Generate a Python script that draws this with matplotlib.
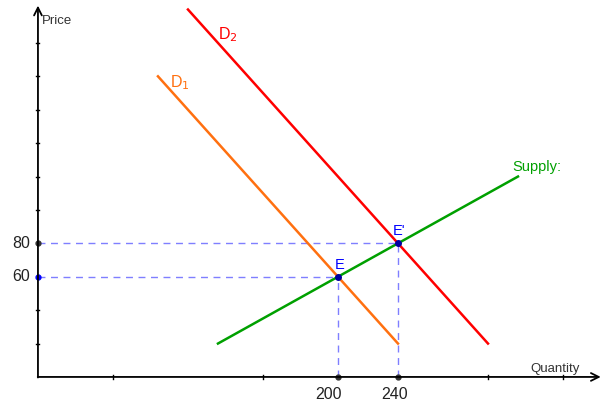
import numpy as np
import matplotlib.pyplot as plt

plt.rcParams['font.family'] = ['Liberation Sans', 'DejaVu Sans']

# curve end points (quantity, price)
supply_q = [120, 320]
supply_p = [20, 120]
d1_q = [80, 240]
d1_p = [180, 20]
d2_q = [100, 300]
d2_p = [220, 20]

# equilibria
eq_q = [200, 240]
eq_p = [60, 80]
eq_names = ["E", "E'"]

x_ticks = [50, 150, 300, 350]
y_ticks = [20, 40, 100, 120, 140, 160, 180, 200]

fig = plt.figure(figsize=(6.08, 4.03), dpi=100)
ax = fig.add_axes([0, 0, 1, 1])
ax.set_xlim(-25.3, 380)
ax.set_ylim(-15.6, 225.7)
ax.axis("off")

# axes with arrows
ax.annotate("", xy=(377, 0), xytext=(-2, 0),
            arrowprops=dict(arrowstyle="->", color="black", lw=1.3, mutation_scale=14))
ax.annotate("", xy=(0, 224), xytext=(0, -2),
            arrowprops=dict(arrowstyle="->", color="black", lw=1.3, mutation_scale=14))
ax.text(2.5, 213, "Price", fontsize=9.5, color="#333333", va="center")
ax.text(328.5, 5, "Quantity", fontsize=9.5, color="#333333", va="center")

for t in x_ticks:
    ax.plot([t, t], [-1, 1], color="black", lw=1)
for t in y_ticks:
    ax.plot([-1.5, 0.5], [t, t], color="black", lw=1)

# dashed guides
blue = "#7f7fff"
for q, p in zip(eq_q, eq_p):
    ax.plot([0, q], [p, p], color=blue, lw=1, dashes=(5, 4))
    ax.plot([q, q], [0, p], color=blue, lw=1, dashes=(5, 4))

# curves
ax.plot(d1_q, d1_p, color="#ff7010", lw=1.8)
ax.plot(d2_q, d2_p, color="#ff0000", lw=1.8)
ax.plot(supply_q, supply_p, color="#00a000", lw=1.8)

# points
ax.plot(eq_q, eq_p, "o", color="#0000a0", ms=4)
ax.plot(eq_q, [0, 0], "o", color="#333333", ms=3.5)
ax.plot([0], [eq_p[0]], "o", color="#0000ff", ms=3.5)
ax.plot([0], [eq_p[1]], "o", color="#333333", ms=3.5)

for q, p, n in zip(eq_q, eq_p, eq_names):
    ax.text(q + 1, p + 3, n, fontsize=10.5, color="#0000ff", ha="center", va="bottom")

ax.text(-5, eq_p[0], "60", fontsize=11.5, ha="right", va="center", color="#222222")
ax.text(-5, eq_p[1], "80", fontsize=11.5, ha="right", va="center", color="#222222")
ax.text(eq_q[0] - 6, -10.8, "200", fontsize=11.5, ha="center", va="center", color="#222222")
ax.text(eq_q[1] - 2, -10.8, "240", fontsize=11.5, ha="center", va="center", color="#222222")

ax.text(88, 176, r"D$_1$", fontsize=11.5, color="#ff7010", va="center")
ax.text(120, 205, r"D$_2$", fontsize=11.5, color="#ff0000", va="center")
ax.text(316, 126, "Supply:", fontsize=10.5, color="#00a000", va="center")

fig.savefig("out.png", dpi=100)
